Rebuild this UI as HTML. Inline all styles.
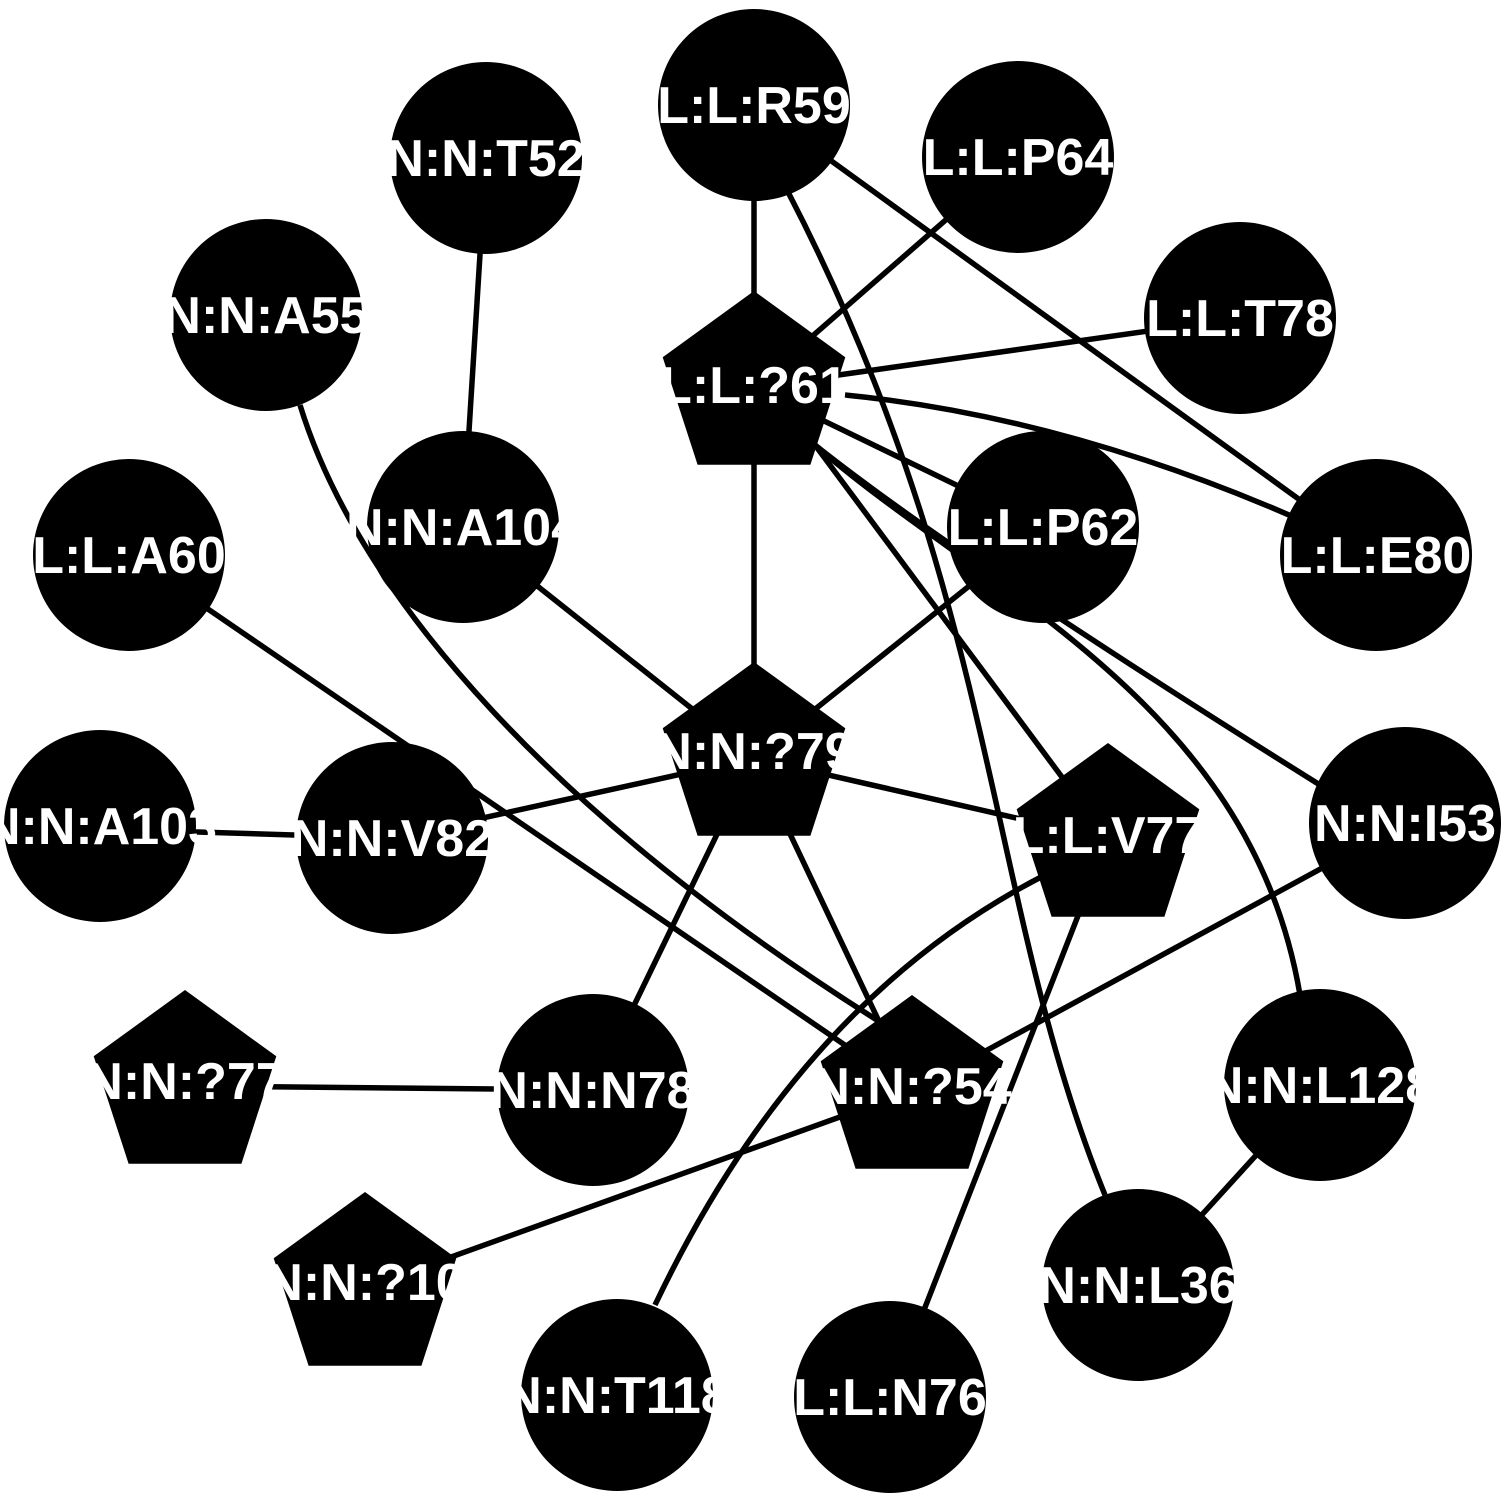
<!DOCTYPE html>
<html><head><meta charset="utf-8"><style>
html,body{margin:0;padding:0;background:#fff;}
svg{display:block;}
text{font-family:"Liberation Sans",sans-serif;font-weight:bold;font-size:52px;fill:#fff;text-anchor:middle;}
</style></head><body>
<svg width="1507" height="1500" viewBox="0 0 1507 1500" xmlns="http://www.w3.org/2000/svg">
<defs>
<polygon id="pg" points="0,-96 91.3,-29.7 56.4,77.7 -56.4,77.7 -91.3,-29.7" fill="#000"/>
</defs>
<g stroke="#000" stroke-width="5.5" fill="none">
<line x1="754" y1="105" x2="754" y2="387"/>
<line x1="754" y1="105" x2="1376" y2="555"/>
<path d="M787,190 C1000,600 985,900 1105,1195"/>
<path d="M815,445 C980,590 1250,700 1300,995"/>
<path d="M815,445 Q960,560 1320,785"/>
<line x1="1018" y1="157" x2="754" y2="387"/>
<line x1="1240" y1="318" x2="754" y2="387"/>
<path d="M845,395 Q1100,420 1376,555"/>
<line x1="754" y1="387" x2="1043" y2="527"/>
<line x1="754" y1="387" x2="754" y2="758"/>
<line x1="815" y1="445" x2="1108" y2="839"/>
<line x1="1043" y1="527" x2="754" y2="758"/>
<path d="M655,1305 Q800,1000 1045,875"/>
<line x1="1405" y1="823" x2="912" y2="1091"/>
<line x1="1108" y1="839" x2="890" y2="1397"/>
<line x1="754" y1="758" x2="1108" y2="839"/>
<line x1="754" y1="758" x2="392" y2="838"/>
<line x1="754" y1="758" x2="593" y2="1090"/>
<line x1="754" y1="758" x2="912" y2="1091"/>
<line x1="754" y1="758" x2="463" y2="527"/>
<line x1="463" y1="527" x2="486" y2="158"/>
<path d="M300,405 C360,600 560,820 880,1022"/>
<line x1="129" y1="555" x2="912" y2="1091"/>
<line x1="100" y1="829" x2="392" y2="838"/>
<line x1="185" y1="1086" x2="593" y2="1090"/>
<line x1="365" y1="1288" x2="912" y2="1091"/>
<line x1="1320" y1="1085" x2="1138" y2="1285"/>
</g>
<g fill="#000">
<circle cx="754" cy="105" r="96"/>
<circle cx="486" cy="158" r="96"/>
<circle cx="1018" cy="157" r="96"/>
<circle cx="266" cy="315" r="96"/>
<circle cx="1240" cy="318" r="96"/>
<circle cx="463" cy="527" r="96"/>
<circle cx="1043" cy="527" r="96"/>
<circle cx="1376" cy="555" r="96"/>
<circle cx="129" cy="555" r="96"/>
<circle cx="1405" cy="823" r="96"/>
<circle cx="100" cy="826" r="96"/>
<circle cx="392" cy="838" r="96"/>
<circle cx="593" cy="1090" r="96"/>
<circle cx="1320" cy="1085" r="96"/>
<circle cx="1138" cy="1285" r="96"/>
<circle cx="617" cy="1395" r="96"/>
<circle cx="890" cy="1397" r="96"/>
</g>
<use href="#pg" x="754" y="387"/>
<use href="#pg" x="754" y="758"/>
<use href="#pg" x="1108" y="839"/>
<use href="#pg" x="185" y="1086"/>
<use href="#pg" x="912" y="1091"/>
<use href="#pg" x="365" y="1288"/>
<text x="754" y="123">L:L:R59</text>
<text x="486" y="176">N:N:T52</text>
<text x="1018" y="175">L:L:P64</text>
<text x="266" y="333">N:N:A55</text>
<text x="1240" y="336">L:L:T78</text>
<text x="754" y="403">L:L:?61</text>
<text x="463" y="545">N:N:A104</text>
<text x="1043" y="545">L:L:P62</text>
<text x="1376" y="573">L:L:E80</text>
<text x="129" y="573">L:L:A60</text>
<text x="754" y="769">N:N:?79</text>
<text x="1108" y="853">L:L:V77</text>
<text x="1405" y="841">N:N:I53</text>
<text x="100" y="844">N:N:A103</text>
<text x="392" y="856">N:N:V82</text>
<text x="185" y="1099">N:N:?77</text>
<text x="593" y="1108">N:N:N78</text>
<text x="912" y="1104">N:N:?54</text>
<text x="1320" y="1103">N:N:L128</text>
<text x="365" y="1300">N:N:?10</text>
<text x="1138" y="1303">N:N:L36</text>
<text x="617" y="1413">N:N:T118</text>
<text x="890" y="1415">L:L:N76</text>
</svg>
</body></html>
